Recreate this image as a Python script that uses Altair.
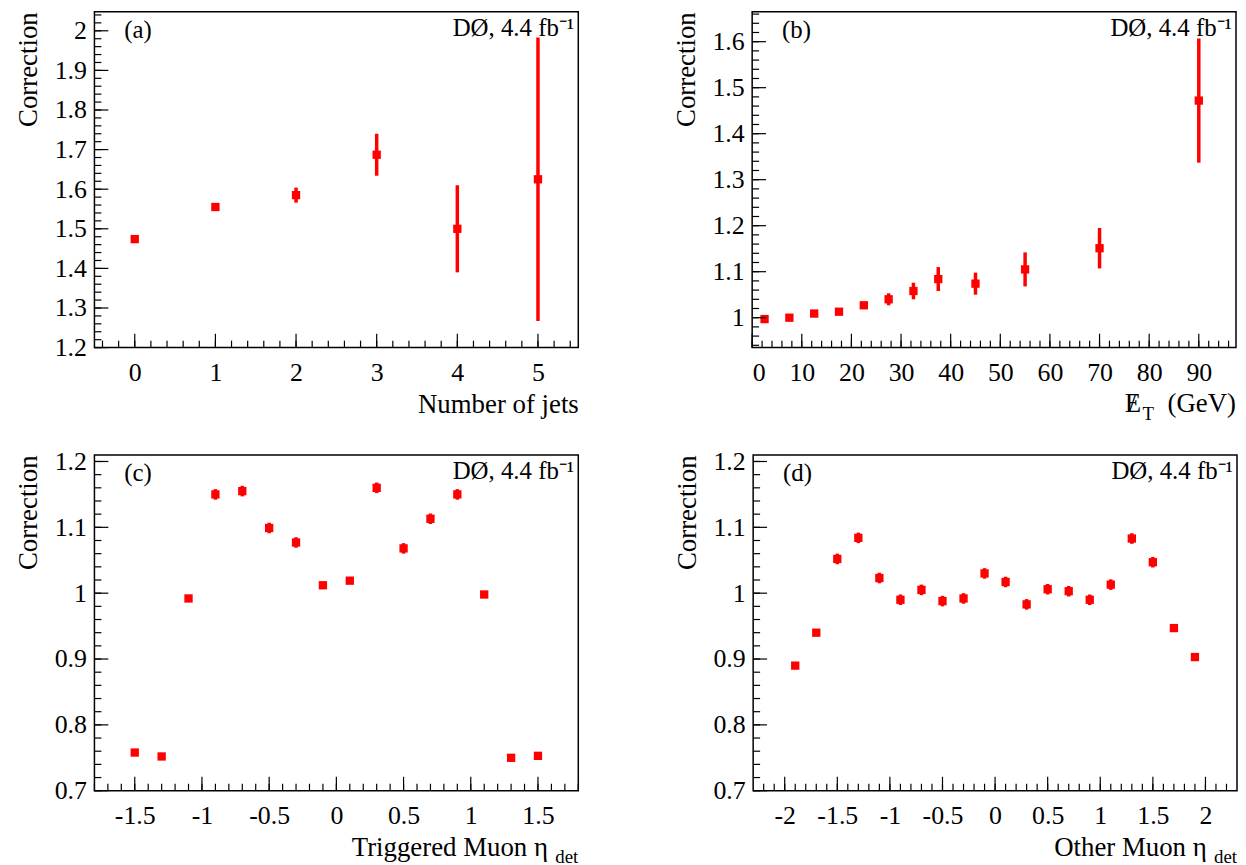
import altair as alt
import numpy as np
import pandas as pd

FONT = "Liberation Serif"
RED = "#ff0000"

# (a) number of jets
jets_x = [0, 1, 2, 3, 4, 5]
jets_y = [1.474, 1.555, 1.585, 1.687, 1.500, 1.625]
jets_err = [0.004, 0.005, 0.019, 0.053, 0.110, 0.358]

# (b) missing ET
met_x = [2.5, 7.5, 12.5, 17.5, 22.5, 27.5, 32.5, 37.5, 45, 55, 70, 90]
met_y = [0.997, 1.000, 1.009, 1.013, 1.027, 1.040, 1.058, 1.084, 1.074, 1.105, 1.151, 1.472]
met_err = [0.003, 0.003, 0.003, 0.004, 0.004, 0.013, 0.018, 0.026, 0.024, 0.037, 0.044, 0.135]

# (c) triggered muon eta
trig_x = [-1.5, -1.3, -1.1, -0.9, -0.7, -0.5, -0.3, -0.1, 0.1, 0.3, 0.5, 0.7, 0.9, 1.1, 1.3, 1.5]
trig_y = [0.758, 0.752, 0.992, 1.150, 1.155, 1.099, 1.077, 1.012, 1.019, 1.160, 1.068, 1.113, 1.150, 0.998, 0.750, 0.753]
trig_err = [0.003, 0.003, 0.003, 0.008, 0.008, 0.008, 0.008, 0.003, 0.003, 0.008, 0.008, 0.008, 0.008, 0.003, 0.003, 0.003]

# (d) other muon eta
oth_x = [-1.9, -1.7, -1.5, -1.3, -1.1, -0.9, -0.7, -0.5, -0.3, -0.1,
         0.1, 0.3, 0.5, 0.7, 0.9, 1.1, 1.3, 1.5, 1.7, 1.9]
oth_y = [0.890, 0.940, 1.052, 1.084, 1.023, 0.990, 1.005, 0.988, 0.992, 1.030,
         1.017, 0.983, 1.006, 1.003, 0.990, 1.013, 1.083, 1.047, 0.947, 0.903]
oth_err = [0.003, 0.003, 0.008, 0.008, 0.008, 0.008, 0.008, 0.008, 0.008, 0.008,
           0.008, 0.008, 0.008, 0.008, 0.008, 0.008, 0.008, 0.008, 0.003, 0.006]

W, H = 487, 338
TITLE_Y = 44


def ticks(lo, hi, step):
    n = int(round((hi - lo) / step))
    return [round(lo + i * step, 6) for i in range(n + 1)]


def panel(xs, ys, errs, xdom, ydom, xmaj, xmin, ymaj, ymin, label, xtitle, sub=None):
    df = pd.DataFrame({"x": xs, "y": ys})
    df["lo"] = df["y"] - np.array(errs)
    df["hi"] = df["y"] + np.array(errs)
    xsc = alt.Scale(domain=xdom, nice=False, zero=False)
    ysc = alt.Scale(domain=ydom, nice=False, zero=False)
    xaxis = alt.Axis(
        values=xmaj, ticks=False, domain=False, grid=False, labelFontSize=26, labelFont=FONT,
        labelColor="black", labelPadding=12, labelExpr="toString(datum.value)",
        title=xtitle or "", titleFont=FONT, titleFontSize=27,
        titleFontWeight="normal", titleColor="black", titleAlign="right", titleAnchor="end",
        titleX=W - (31 if sub else 0), titleY=TITLE_Y,
    )
    yaxis = alt.Axis(
        values=ymaj, ticks=False, domain=False, grid=False, labelFontSize=26, labelFont=FONT,
        labelColor="black", labelPadding=8, title="Correction", titleFont=FONT, titleFontSize=27,
        titleFontWeight="normal", titleColor="black", titleAnchor="end", titleAlign="right",
        titleY=0, titlePadding=12, labelExpr="toString(datum.value)",
    )
    X = lambda f: alt.X(f, scale=xsc, axis=xaxis)
    Y = lambda f: alt.Y(f, scale=ysc, axis=yaxis)
    base = alt.Chart(df)
    bars = base.mark_rule(color=RED, strokeWidth=3.5).encode(x=X("x:Q"), y=Y("lo:Q"), y2="hi:Q")
    pts = base.mark_square(color=RED, opacity=1, size=70).encode(x=X("x:Q"), y=Y("y:Q"))
    layers = [bars, pts]
    # inward ROOT-style ticks
    for vals, ln in ((ymaj, 14), (ymin, 7)):
        t = pd.DataFrame({"v": vals})
        layers.append(alt.Chart(t).mark_rule(color="black", strokeWidth=1.2).encode(
            y=Y("v:Q"), x=alt.value(0), x2=alt.value(ln)))
    for vals, ln in ((xmaj, 14), (xmin, 7)):
        t = pd.DataFrame({"v": vals})
        layers.append(alt.Chart(t).mark_rule(color="black", strokeWidth=1.2).encode(
            x=X("v:Q"), y=alt.value(H), y2=alt.value(H - ln)))
    txt = alt.Chart(pd.DataFrame({"a": [0]}))
    layers.append(txt.mark_text(font=FONT, fontSize=25, align="left", baseline="top").encode(
        x=alt.value(30), y=alt.value(6), text=alt.value(label)))
    layers.append(txt.mark_text(font=FONT, fontSize=25, align="right", baseline="top").encode(
        x=alt.value(W - 4), y=alt.value(4), text=alt.value("DØ,  4.4 fb⁻¹")))
    if sub:
        layers.append(txt.mark_text(font=FONT, fontSize=19, align="right", baseline="alphabetic").encode(
            x=alt.value(W), y=alt.value(H + TITLE_Y + 29), text=alt.value(sub)))
    return layers


def frame(layers):
    return alt.layer(*layers).properties(
        width=W, height=H, view=alt.ViewBackground(stroke="black", strokeWidth=1.5))


pa = frame(panel(jets_x, jets_y, jets_err, [-0.5, 5.5], [1.2, 2.048],
                 ticks(0, 5, 1), ticks(-0.4, 5.4, 0.2), ticks(1.2, 2.0, 0.1), ticks(1.2, 2.04, 0.02),
                 "(a)", "Number of jets"))
pc = frame(panel(trig_x, trig_y, trig_err, [-1.8, 1.8], [0.7, 1.21],
                 ticks(-1.5, 1.5, 0.5), ticks(-1.8, 1.8, 0.1), ticks(0.7, 1.2, 0.1), ticks(0.7, 1.2, 0.02),
                 "(c)", "Triggered Muon η", sub="det"))
pd_ = frame(panel(oth_x, oth_y, oth_err, [-2.3, 2.3], [0.7, 1.21],
                  ticks(-2, 2, 0.5), ticks(-2.2, 2.2, 0.1), ticks(0.7, 1.2, 0.1), ticks(0.7, 1.2, 0.02),
                  "(d)", "Other Muon η", sub="det"))

# missing-ET axis title drawn as text: E with slash, subscript T, (GeV)
one = alt.Chart(pd.DataFrame({"a": [0]}))
ty = H + TITLE_Y + 21
met_title = [
    one.mark_text(font=FONT, fontSize=27, align="right", baseline="alphabetic").encode(
        x=alt.value(W), y=alt.value(ty), text=alt.value("(GeV)")),
    one.mark_text(font=FONT, fontSize=27, align="left", baseline="alphabetic").encode(
        x=alt.value(W - 112), y=alt.value(ty), text=alt.value("E")),
    one.mark_text(font=FONT, fontSize=27, align="left", baseline="alphabetic").encode(
        x=alt.value(W - 108), y=alt.value(ty), text=alt.value("/")),
    one.mark_text(font=FONT, fontSize=19, align="left", baseline="alphabetic").encode(
        x=alt.value(W - 94), y=alt.value(ty + 8), text=alt.value("T")),
]
pb = frame(panel(met_x, met_y, met_err, [0, 97.5], [0.935, 1.665],
                 ticks(0, 90, 10), ticks(0, 96, 2), ticks(1.0, 1.6, 0.1), ticks(0.94, 1.66, 0.02),
                 "(b)", None) + met_title)

chart = (
    alt.vconcat(
        alt.hconcat(pa, pb, spacing=92),
        alt.hconcat(pc, pd_, spacing=92),
        spacing=22,
    )
    .configure(background="white", padding={"left": 5, "top": 0, "right": 0, "bottom": 0})
)

chart.save("out.html", embed_options={"renderer": "svg", "actions": False})
